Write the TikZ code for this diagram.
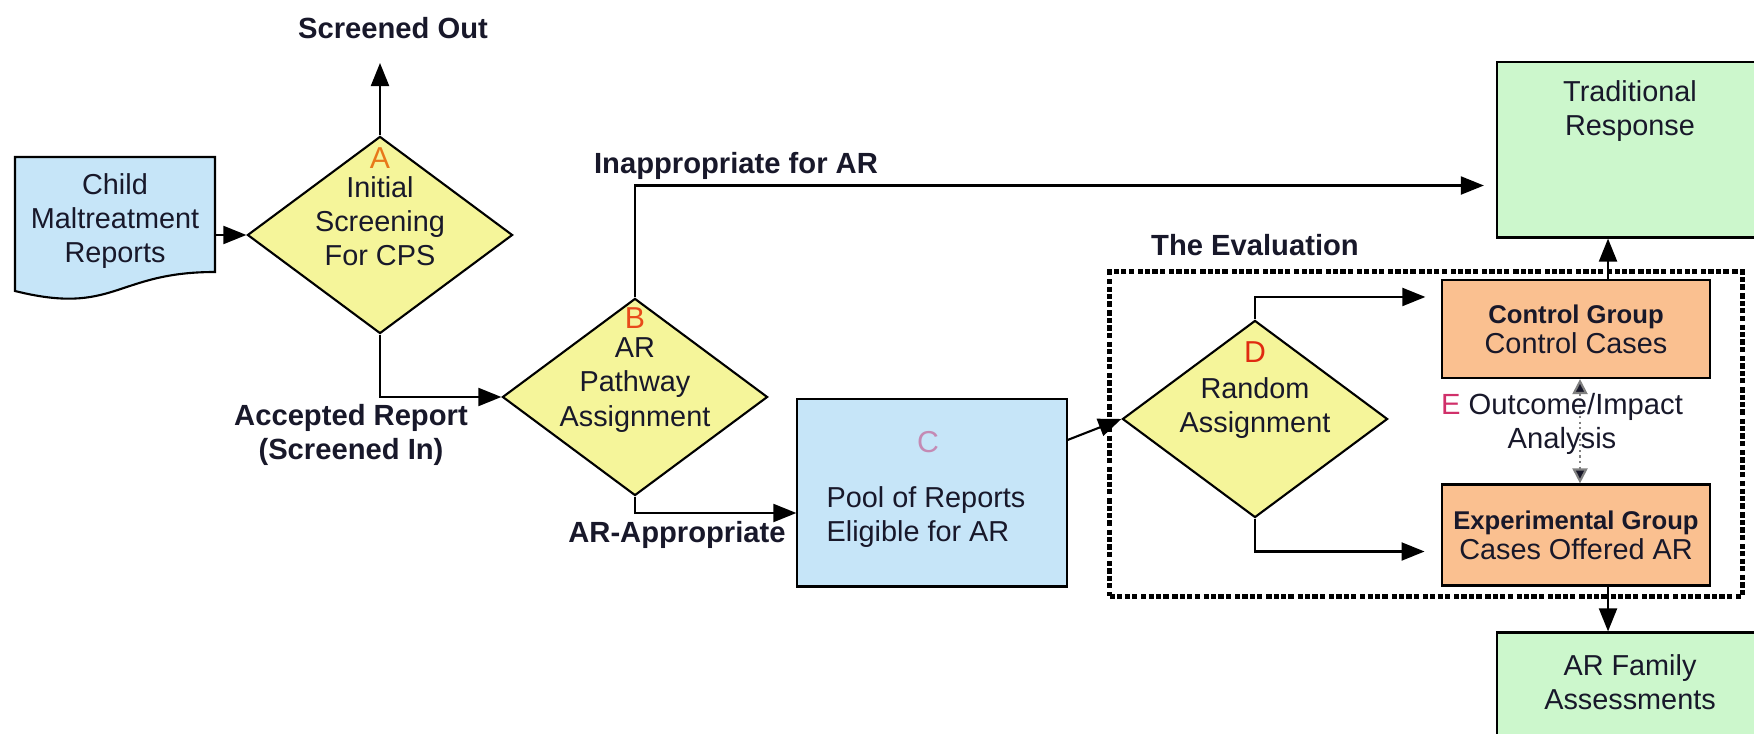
\documentclass[tikz,border=0pt]{standalone}
\usepackage{fontspec}
\setmainfont{Liberation Sans}
\usetikzlibrary{shapes.geometric,arrows.meta,positioning}
\definecolor{ink}{HTML}{18182A}
\definecolor{repblue}{HTML}{C6E5F8}
\definecolor{decyellow}{HTML}{F5F59A}
\definecolor{grouporange}{HTML}{FAC090}
\definecolor{respgreen}{HTML}{CCF7CC}
\definecolor{tagA}{HTML}{E8781A}
\definecolor{tagB}{HTML}{E84A1A}
\definecolor{tagC}{HTML}{C48AB4}
\definecolor{tagD}{HTML}{E02A10}
\definecolor{tagE}{HTML}{D0306A}

\begin{document}
\begin{tikzpicture}[x=0.01cm,y=-0.01cm,
  every node/.style={text=ink,font=\fontsize{8.2}{9.7}\selectfont},
  decision/.style={diamond,draw,line width=0.6pt,fill=decyellow,minimum width=2.65cm,minimum height=1.97cm,inner sep=0pt},
  process/.style={rectangle,draw,line width=0.6pt,minimum width=2.67cm},
  flowlbl/.style={font=\bfseries\fontsize{8.3}{9.9}\selectfont,align=center},
  letter/.style={font=\fontsize{8.6}{9.7}\selectfont},
  arr/.style={line width=0.6pt,-{Triangle[length=2.3mm,width=1.8mm]}},
  evalframe/.style={draw,line width=1.45pt,dash pattern=on 1.5pt off 0.6pt on 1.5pt off 0.6pt on 1.5pt off 0.6pt on 1.5pt off 1.1pt,minimum width=6.32cm,minimum height=3.24cm}]
  \useasboundingbox (0,0) rectangle (1754,734);
  \clip (0,0) rectangle (1754,734);

  \draw[line width=0.6pt,fill=repblue] (15,157) -- (215,157) -- (215,272)
    .. controls (115,272) and (115,316) .. (15,291) -- cycle;
  \node[align=center,minimum width=2cm] (rep) at (115,221) {Child\\Maltreatment\\Reports};

  \node[decision] (scr) at (380,235) {};
  \node[letter,text=tagA] (tA) at (380,158) {A};
  \node[align=center] (scrtxt) at (380,221) {Initial\\Screening\\For CPS};

  \node[decision] (path) at (635,397) {};
  \node[letter,text=tagB] (tB) at (635,318) {B};
  \node[align=center] (pathtxt) at (635,385) {AR\\Pathway\\Assignment};

  \node[process,fill=repblue,minimum width=2.69cm,minimum height=1.87cm] (pool) at (932,493) {};
  \node[letter,text=tagC] (tC) at (928,442) {C};
  \node[align=left] (pooltxt) at (926,517) {Pool of Reports\\Eligible for AR};

  \node[evalframe] (evalbox) at (1426,434) {};
  \node[flowlbl] (evaltitle) at (1255,245) {The Evaluation};

  \node[decision] (rand) at (1255,419) {};
  \node[letter,text=tagD] (tD) at (1255,352) {D};
  \node[align=center] (randtxt) at (1255,408) {Random\\Assignment};

  \node[process,fill=grouporange,minimum height=0.98cm,align=center,font=\fontsize{8.2}{8.6}\selectfont] (ctrl) at (1576,329)
    {{\bfseries\fontsize{7.3}{8.6}\selectfont Control Group}\\Control Cases};
  \node[process,fill=grouporange,minimum height=1.01cm,align=center,font=\fontsize{8.2}{8.6}\selectfont] (exp) at (1576,535)
    {{\bfseries\fontsize{7.3}{8.6}\selectfont Experimental Group}\\Cases Offered AR};

  \node[process,fill=respgreen,minimum width=2.66cm,minimum height=1.75cm] (trad) at (1630,150) {};
  \node[align=center] (tradtxt) at (1630,111) {Traditional\\Response};
  \node[process,fill=respgreen,minimum width=2.66cm,minimum height=1.75cm] (fam) at (1630,720) {};
  \node[align=center] (famtxt) at (1630,682) {AR Family\\Assessments};

  \node[flowlbl] (outlbl) at (393,28) {Screened Out};
  \coordinate (outtip) at (380,63);
  \node[flowlbl] (inlbl) at (351,435) {Accepted Report\\(Screened In)};
  \node[flowlbl] (inaplbl) at (736,166) {Inappropriate for AR};
  \node[flowlbl] (aplbl) at (677,535) {AR-Appropriate};

  \draw[arr] (rep.east |- scr.west) -- (scr.west);
  \draw[arr] (scr.north) -- (outtip);
  \draw[arr] (scr.south) |- (path.west);
  \draw[arr,shorten >=0.12cm] (path.north) |- ([yshift=-0.355cm]trad.west);
  \draw[arr] (path.south) |- ([yshift=-0.2cm]pool.west);
  \draw[arr] ([yshift=0.53cm]pool.east) -- (rand.west);
  \draw[arr,shorten >=0.16cm] (rand.north) |- ([yshift=0.32cm]ctrl.west);
  \draw[arr,shorten >=0.16cm] (rand.south) |- ([yshift=-0.165cm]exp.west);
  \draw[arr] ([xshift=0.32cm]ctrl.north) -- ([xshift=0.32cm]ctrl.north |- trad.south);
  \draw[arr] ([xshift=0.32cm]exp.south) -- ([xshift=0.32cm]exp.south |- fam.north);
  \draw[gray,densely dotted,line width=0.6pt,{Triangle[length=1.5mm,width=1.5mm,fill=ink]}-{Triangle[length=1.5mm,width=1.5mm,fill=ink]}]
    ([xshift=0.04cm]ctrl.south) -- ([xshift=0.04cm]exp.north);
  \node[align=center,font=\fontsize{8.3}{9.9}\selectfont] (anlys) at (1562,424) {\textcolor{tagE}{E} Outcome/Impact\\Analysis};
\end{tikzpicture}
\end{document}
